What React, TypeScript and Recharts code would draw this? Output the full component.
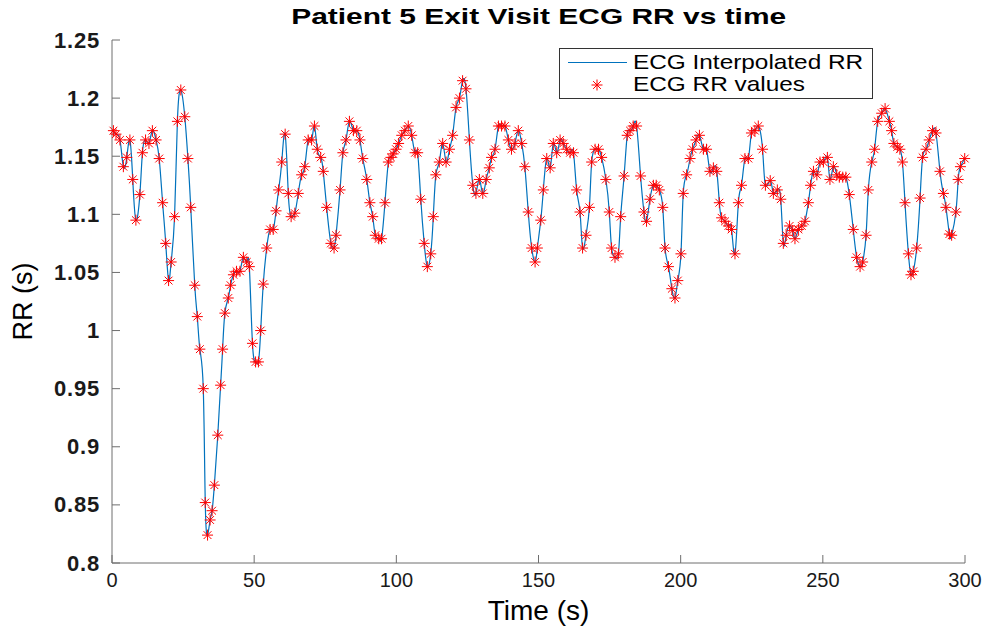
import React from 'react';
import { ComposedChart, Line, Scatter, XAxis, YAxis } from 'recharts';

// beat times (s) and RR intervals (s)
const times = [
  0.5, 1.4, 2.8, 4.0, 5.2, 6.3, 7.3, 8.4, 9.8, 10.7, 11.8, 13.0, 14.2, 15.5, 16.6, 17.8, 18.9, 19.9,
  20.8, 22.0, 23.0, 24.2, 25.6, 26.7, 27.7, 29.1, 30.0, 30.9, 32.1, 32.8, 33.6, 34.5, 35.2, 36.0,
  37.2, 38.2, 38.9, 39.7, 40.9, 41.7, 42.7, 43.8, 45.0, 46.2, 47.4, 48.3, 49.4, 50.5, 51.5, 52.3,
  53.2, 54.4, 55.6, 56.7, 57.7, 58.6, 59.7, 60.9, 62.0, 63.0, 64.3, 65.5, 66.7, 67.8, 69.0, 70.2,
  71.2, 72.2, 73.4, 74.3, 75.5, 77.0, 78.1, 78.8, 80.2, 81.2, 82.3, 83.5, 84.9, 86.1, 87.2, 88.2,
  89.6, 90.7, 91.7, 92.6, 93.8, 94.8, 96.0, 97.2, 98.1, 98.9, 99.9, 100.8, 101.9, 103.0, 104.2,
  105.4, 106.6, 107.5, 108.6, 109.8, 110.9, 112.1, 113.0, 113.9, 115.1, 116.3, 117.5, 118.7, 119.8,
  121.0, 122.2, 123.3, 124.5, 125.7, 126.9, 128.0, 129.2, 130.4, 131.6, 132.7, 133.5, 134.7, 135.9,
  137.0, 138.2, 139.4, 140.5, 141.7, 142.9, 144.1, 145.2, 146.4, 147.6, 148.8, 149.6, 150.8, 151.7,
  152.9, 154.1, 155.2, 156.4, 157.6, 158.7, 159.9, 161.1, 162.3, 163.4, 164.6, 165.5, 166.7, 167.9,
  168.7, 169.9, 171.1, 172.2, 173.7, 174.9, 175.7, 176.9, 178.1, 178.9, 180.1, 181.2, 182.2, 183.3,
  184.5, 185.9, 187.1, 188.0, 189.2, 190.4, 191.4, 192.5, 193.7, 194.5, 195.7, 196.9, 198.0, 199.0,
  200.1, 200.9, 202.1, 203.3, 204.2, 205.4, 206.6, 208.0, 209.1, 210.3, 211.5, 212.7, 213.6, 214.4,
  215.6, 216.8, 217.9, 219.1, 220.3, 221.4, 222.6, 223.8, 224.9, 226.1, 227.3, 228.8, 229.8, 231.5,
  232.6, 234.0, 235.2, 236.1, 237.1, 238.3, 239.4, 240.2, 241.4, 242.6, 243.7, 244.9, 245.7, 246.7,
  247.9, 249.0, 250.2, 251.6, 252.5, 253.7, 254.9, 255.8, 257.0, 258.1, 259.3, 260.7, 261.9, 263.1,
  264.0, 265.2, 266.0, 267.2, 268.2, 269.3, 270.7, 271.9, 273.4, 274.2, 275.0, 276.2, 277.1, 278.0,
  278.9, 280.1, 281.0, 281.8, 283.0, 284.2, 285.1, 286.3, 287.4, 288.6, 289.8, 291.2, 292.4, 293.3,
  294.5, 295.3, 296.8, 297.6, 298.4, 299.9,
];

const rrValues = [
  1.172, 1.169, 1.164, 1.141, 1.149, 1.164, 1.130, 1.095, 1.117, 1.153, 1.164, 1.161, 1.172, 1.164,
  1.148, 1.110, 1.075, 1.043, 1.059, 1.098, 1.180, 1.207, 1.184, 1.148, 1.106, 1.039, 1.012, 0.984,
  0.950, 0.852, 0.824, 0.837, 0.845, 0.867, 0.910, 0.953, 0.984, 1.015, 1.028, 1.039, 1.048, 1.051,
  1.051, 1.063, 1.059, 1.055, 0.989, 0.973, 0.973, 1.000, 1.040, 1.071, 1.087, 1.087, 1.103, 1.121,
  1.145, 1.169, 1.118, 1.098, 1.101, 1.118, 1.134, 1.141, 1.164, 1.164, 1.176, 1.156, 1.149, 1.137,
  1.106, 1.075, 1.071, 1.082, 1.121, 1.153, 1.164, 1.180, 1.172, 1.172, 1.164, 1.148, 1.130, 1.110,
  1.098, 1.082, 1.079, 1.079, 1.110, 1.145, 1.149, 1.152, 1.156, 1.161, 1.168, 1.172, 1.176, 1.168,
  1.153, 1.153, 1.113, 1.075, 1.055, 1.066, 1.098, 1.134, 1.145, 1.161, 1.145, 1.156, 1.168, 1.192,
  1.200, 1.215, 1.208, 1.164, 1.125, 1.118, 1.130, 1.118, 1.130, 1.140, 1.149, 1.156, 1.176, 1.176,
  1.176, 1.164, 1.156, 1.161, 1.172, 1.161, 1.141, 1.102, 1.071, 1.059, 1.071, 1.095, 1.121, 1.148,
  1.140, 1.161, 1.153, 1.164, 1.161, 1.156, 1.153, 1.153, 1.121, 1.102, 1.071, 1.082, 1.106, 1.145,
  1.156, 1.156, 1.149, 1.130, 1.102, 1.071, 1.063, 1.066, 1.098, 1.133, 1.168, 1.172, 1.176, 1.176,
  1.133, 1.102, 1.094, 1.113, 1.125, 1.125, 1.121, 1.106, 1.071, 1.055, 1.036, 1.028, 1.043, 1.066,
  1.118, 1.134, 1.148, 1.156, 1.164, 1.168, 1.156, 1.156, 1.137, 1.140, 1.137, 1.110, 1.097, 1.094,
  1.090, 1.087, 1.066, 1.110, 1.125, 1.148, 1.148, 1.170, 1.172, 1.176, 1.156, 1.125, 1.129, 1.118,
  1.121, 1.113, 1.075, 1.082, 1.090, 1.086, 1.079, 1.087, 1.090, 1.094, 1.110, 1.125, 1.137, 1.134,
  1.145, 1.145, 1.149, 1.130, 1.141, 1.134, 1.132, 1.132, 1.132, 1.117, 1.087, 1.063, 1.055, 1.059,
  1.082, 1.121, 1.145, 1.156, 1.180, 1.187, 1.191, 1.180, 1.172, 1.161, 1.158, 1.156, 1.145, 1.110,
  1.066, 1.048, 1.051, 1.071, 1.114, 1.149, 1.156, 1.164, 1.172, 1.170, 1.137, 1.118, 1.106, 1.083,
  1.082, 1.102, 1.130, 1.141, 1.148,
];

const xTicks = [0, 50, 100, 150, 200, 250, 300];
const yTicks = [0.8, 0.85, 0.9, 0.95, 1, 1.05, 1.1, 1.15, 1.2, 1.25];

const data = times.map((t, i) => ({ t, rr: rrValues[i] }));

// plot box in page pixels
const LEFT = 112;
const RIGHT = 965;
const TOP = 40;
const BOTTOM = 563;
const AXIS = '#6e6e6e';
const FONT = '"Liberation Sans", Arial, sans-serif';

const Asterisk = ({ cx, cy }: any) => {
  if (cx == null || cy == null) return null;
  const r = 5.5;
  const d = 3.9;
  return (
    <g stroke="#ff0000" strokeWidth={1}>
      <line x1={cx - r} x2={cx + r} y1={cy} y2={cy} />
      <line x1={cx} x2={cx} y1={cy - r} y2={cy + r} />
      <line x1={cx - d} x2={cx + d} y1={cy - d} y2={cy + d} />
      <line x1={cx - d} x2={cx + d} y1={cy + d} y2={cy - d} />
    </g>
  );
};

const LeftTick = ({ y, payload }: any) => (
  <g>
    <line x1={LEFT} x2={LEFT + 8} y1={y} y2={y} stroke={AXIS} />
    <text x={LEFT - 12} y={y} textAnchor="end" dominantBaseline="central"
      fontFamily={FONT} fontSize={22} fontWeight="bold" letterSpacing={0.8} fill="#1a1a1a">
      {String(payload.value)}
    </text>
  </g>
);

const RightTick = ({ y }: any) => (
  <line x1={RIGHT - 8} x2={RIGHT} y1={y} y2={y} stroke={AXIS} />
);

const BottomTick = ({ x, payload }: any) => (
  <g>
    <line x1={x} x2={x} y1={BOTTOM} y2={BOTTOM - 8} stroke={AXIS} />
    <text x={x} y={BOTTOM + 17} textAnchor="middle" dominantBaseline="central"
      fontFamily={FONT} fontSize={20} fill="#1a1a1a">
      {String(payload.value)}
    </text>
  </g>
);

const TopTick = ({ x }: any) => (
  <line x1={x} x2={x} y1={TOP} y2={TOP + 8} stroke={AXIS} />
);

export default function App() {
  return (
    <div style={{ position: 'relative', width: 993, height: 630, background: '#fff', fontFamily: FONT }}>
      <style>{'body{margin:0}'}</style>
      <div style={{ position: 'absolute', left: LEFT, width: RIGHT - LEFT, top: 4, textAlign: 'center',
        fontSize: 22, fontWeight: 'bold', color: '#000', transform: 'scaleX(1.36)', transformOrigin: '426px 0' }}>
        Patient 5 Exit Visit ECG RR vs time
      </div>
      <ComposedChart width={993} height={630} data={data}
        margin={{ top: TOP, right: 993 - RIGHT, bottom: 0, left: 0 }}>
        <XAxis dataKey="t" type="number" domain={[0, 300]} ticks={xTicks} interval={0}
          height={630 - BOTTOM} stroke={AXIS} tickLine={false} tick={<BottomTick />}
          label={{ value: 'Time (s)', position: 'insideBottom', offset: 10, fontSize: 28, fill: '#000', fontFamily: FONT }} />
        <XAxis xAxisId="top" dataKey="t" type="number" orientation="top" domain={[0, 300]} ticks={xTicks}
          interval={0} height={0} stroke={AXIS} tickLine={false} tick={<TopTick />} />
        <YAxis type="number" domain={[0.8, 1.25]} ticks={yTicks} interval={0} width={LEFT}
          stroke={AXIS} tickLine={false} tick={<LeftTick />} allowDataOverflow
          label={{ value: 'RR (s)', angle: -90, position: 'insideLeft', offset: 22, fontSize: 27, fill: '#000', fontFamily: FONT, style: { textAnchor: 'middle' } }} />
        <YAxis yAxisId="right" type="number" orientation="right" domain={[0.8, 1.25]} ticks={yTicks}
          interval={0} width={0} stroke="#3a3a3a" tickLine={false} tick={<RightTick />} />
        <Line dataKey="rr" type="natural" stroke="#0072BD" strokeWidth={1.2} dot={false}
          isAnimationActive={false} />
        <Scatter dataKey="rr" shape={<Asterisk />} isAnimationActive={false} />
      </ComposedChart>
      <div style={{ position: 'absolute', left: 559, top: 48, width: 312, height: 49,
        border: '1px solid #333', background: '#fff', fontSize: 21, color: '#000' }}>
        <div style={{ position: 'absolute', left: 8, top: 13, width: 59, height: 1, background: '#0072BD' }} />
        <div style={{ position: 'absolute', left: 73, top: 1, lineHeight: '24px', transform: 'scaleX(1.16)', transformOrigin: '0 0', whiteSpace: 'nowrap' }}>ECG Interpolated RR</div>
        <svg style={{ position: 'absolute', left: 30, top: 29 }} width={14} height={14}>
          <Asterisk cx={7} cy={7} />
        </svg>
        <div style={{ position: 'absolute', left: 73, top: 23, lineHeight: '24px', transform: 'scaleX(1.16)', transformOrigin: '0 0', whiteSpace: 'nowrap' }}>ECG RR values</div>
      </div>
    </div>
  );
}
